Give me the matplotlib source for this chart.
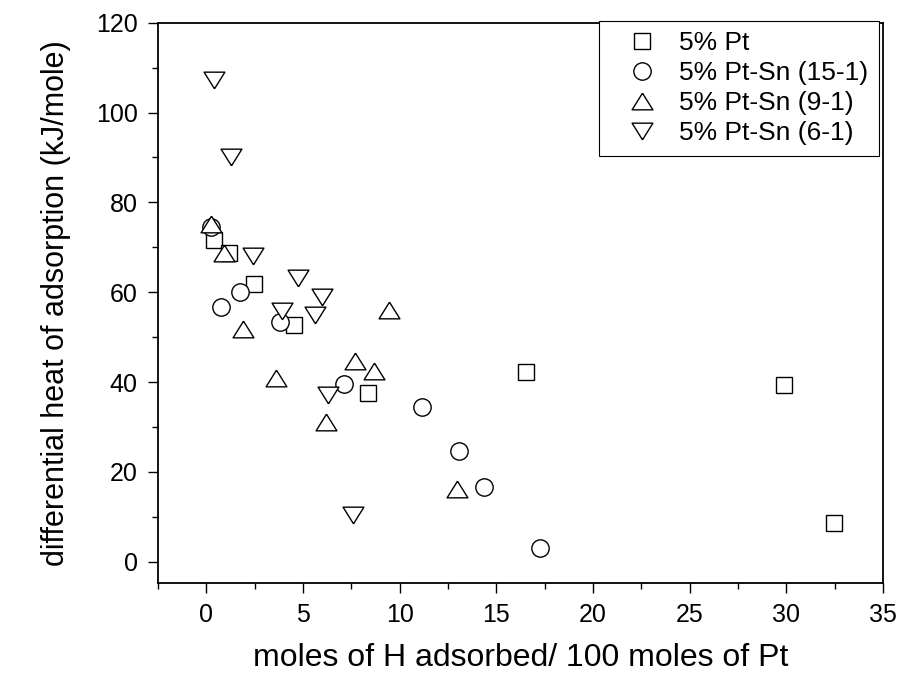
import matplotlib
matplotlib.use("Agg")
import matplotlib.pyplot as plt
from matplotlib.ticker import MultipleLocator

plt.rcParams['font.family'] = ['Liberation Sans', 'DejaVu Sans']

# ---- data ----
pt_x = [0.42, 1.17, 2.45, 4.52, 8.37, 16.52, 29.9, 32.45]
pt_y = [71.6, 68.8, 61.8, 52.6, 37.6, 42.3, 39.4, 8.6]

sn15_x = [0.26, 0.78, 1.72, 3.83, 7.11, 11.13, 13.08, 14.38, 17.28]
sn15_y = [74.6, 56.7, 60.1, 53.3, 39.5, 34.5, 24.7, 16.6, 3.0]

sn9_x = [0.26, 0.93, 1.92, 3.6, 6.2, 7.7, 8.66, 9.44, 12.97]
sn9_y = [75.2, 68.8, 51.8, 40.8, 31.2, 44.6, 42.4, 56.0, 16.2]

sn6_x = [0.40, 1.28, 2.43, 3.93, 4.73, 5.64, 5.97, 6.28, 7.61]
sn6_y = [107.2, 90.2, 68.1, 55.9, 63.2, 55.0, 59.0, 37.1, 10.4]

labels = ["5% Pt", "5% Pt-Sn (15-1)", "5% Pt-Sn (9-1)", "5% Pt-Sn (6-1)"]

x_label = "moles of H adsorbed/ 100 moles of Pt"
y_label = "differential heat of adsorption (kJ/mole)"

# ---- figure ----
W, H = 901, 673
fig = plt.figure(figsize=(W / 100, H / 100), dpi=100)
ax_l, ax_r, ax_t, ax_b = 158, 883, 22.7, 583.3
ax = fig.add_axes([ax_l / W, 1 - ax_b / H, (ax_r - ax_l) / W, (ax_b - ax_t) / H])

up_tri = [(0, 0.8), (-1, -0.8), (1, -0.8), (0, 0.8)]
down_tri = [(0, -0.8), (-1, 0.8), (1, 0.8), (0, -0.8)]

common = dict(linestyle='none', markerfacecolor='white', markeredgecolor='black',
              markeredgewidth=1.0)
ax.plot(pt_x, pt_y, marker='s', markersize=11, label=labels[0], **common)
ax.plot(sn15_x, sn15_y, marker='o', markersize=12.5, label=labels[1], **common)
ax.plot(sn9_x, sn9_y, marker=up_tri, markersize=15, label=labels[2], **common)
ax.plot(sn6_x, sn6_y, marker=down_tri, markersize=15, label=labels[3], **common)

ax.set_xlim(-2.5, 35)
ax.set_ylim(-4.8, 120)
ax.xaxis.set_major_locator(MultipleLocator(5))
ax.xaxis.set_minor_locator(MultipleLocator(2.5))
ax.yaxis.set_major_locator(MultipleLocator(20))
ax.yaxis.set_minor_locator(MultipleLocator(10))

ax.tick_params(which='both', direction='out', top=False, right=False, width=1.0,
               labelsize=18, pad=7)
ax.tick_params(which='major', length=7.5)
ax.tick_params(which='minor', length=4)
for s in ax.spines.values():
    s.set_linewidth(1.3)

ax.set_xlabel(x_label, fontsize=23, labelpad=11)
ax.set_ylabel(y_label, fontsize=22, labelpad=18)

axw, axh = ax_r - ax_l, ax_b - ax_t
leg = ax.legend(loc='upper right', bbox_to_anchor=(1 - 4 / axw, 1 + 2 / axh),
                borderaxespad=0, fontsize=19, frameon=True, fancybox=False,
                framealpha=1, edgecolor='black', handlelength=2.45,
                handletextpad=0.18, labelspacing=0.23, borderpad=0.4,
                numpoints=1)
leg.get_frame().set_linewidth(0.8)

fig.savefig("out.png", dpi=100)
